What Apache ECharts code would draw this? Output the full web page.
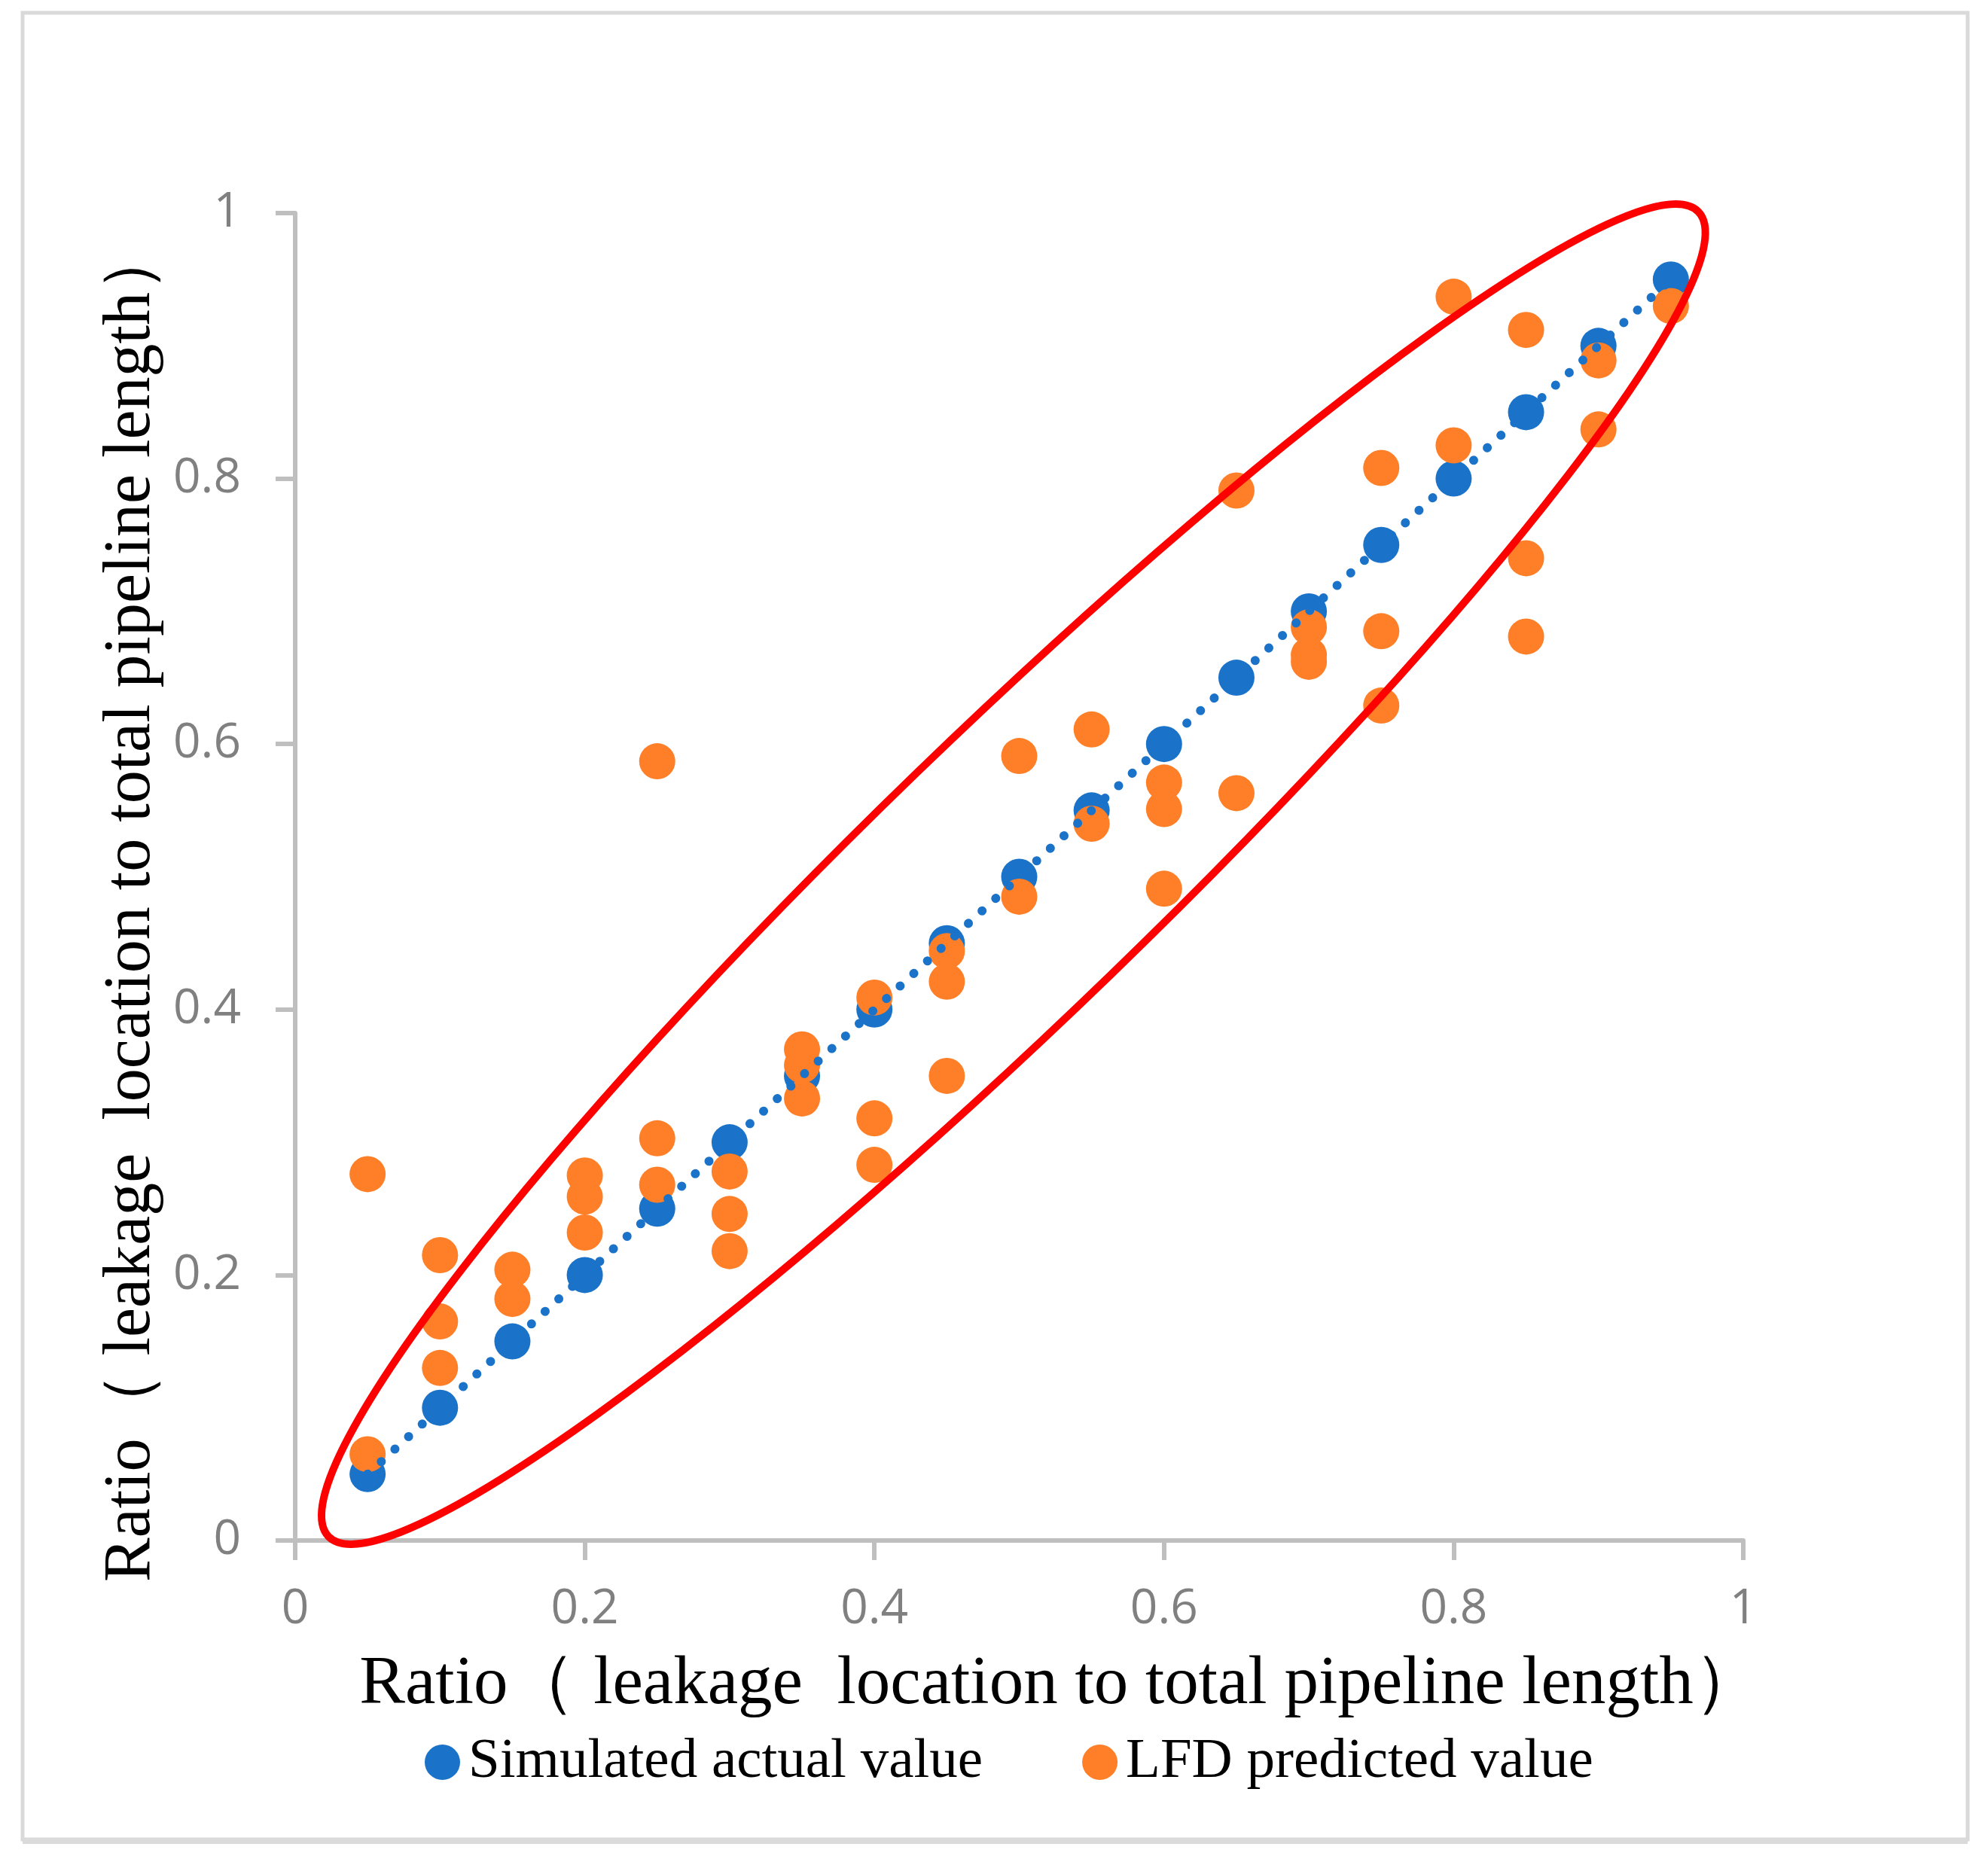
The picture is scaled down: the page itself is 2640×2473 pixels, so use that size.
<!DOCTYPE html>
<html>
<head>
<meta charset="utf-8">
<script src="https://cdn.jsdelivr.net/npm/echarts@6/dist/echarts.min.js"></script>
<style>
  html, body { margin: 0; padding: 0; background: #fff; }
  #main { width: 2640px; height: 2473px; }
</style>
</head>
<body>
<div id="main"></div>
<script>
// 模拟实际值 (x = y)
var simX = [0.05, 0.10, 0.15, 0.20, 0.25, 0.30, 0.35, 0.40, 0.45, 0.50,
            0.55, 0.60, 0.65, 0.70, 0.75, 0.80, 0.85, 0.90, 0.95];
var simY = [0.05, 0.10, 0.15, 0.20, 0.25, 0.30, 0.35, 0.40, 0.45, 0.50,
            0.55, 0.60, 0.65, 0.70, 0.75, 0.80, 0.85, 0.90, 0.95];

// LFD 预测值
var predX = [0.05, 0.05,
             0.10, 0.10, 0.10,
             0.15, 0.15,
             0.20, 0.20, 0.20,
             0.25, 0.25, 0.25,
             0.30, 0.30, 0.30,
             0.35, 0.35, 0.35,
             0.40, 0.40, 0.40,
             0.45, 0.45, 0.45,
             0.50, 0.50,
             0.55, 0.55,
             0.60, 0.60, 0.60,
             0.65, 0.65,
             0.70, 0.70, 0.70,
             0.75, 0.75, 0.75,
             0.80, 0.80,
             0.85, 0.85, 0.85,
             0.90, 0.90,
             0.95];
var predY = [0.065, 0.276,
             0.130, 0.165, 0.215,
             0.182, 0.204,
             0.232, 0.259, 0.275,
             0.268, 0.303, 0.587,
             0.218, 0.246, 0.278,
             0.333, 0.358, 0.370,
             0.283, 0.318, 0.409,
             0.350, 0.421, 0.444,
             0.485, 0.591,
             0.540, 0.611,
             0.491, 0.551, 0.571,
             0.563, 0.791,
             0.662, 0.667, 0.688,
             0.629, 0.685, 0.808,
             0.825, 0.937,
             0.681, 0.740, 0.912,
             0.837, 0.889,
             0.930];

var axisTicks = [0, 0.2, 0.4, 0.6, 0.8, 1];
var seriesNames = ['Simulated actual value', 'LFD predicted value'];
var axisTitle = 'Ratio（ leakage  location to total pipeline length）';

// 红色椭圆的两端 (数据坐标)
var ellipseTipA = [0.023, 0.003];
var ellipseTipB = [0.969, 1.001];

var BLUE = '#1a73c8';
var ORANGE = '#fe7f27';

function pairs(xs, ys) {
  return xs.map(function (x, i) { return [x, ys[i]]; });
}

// 线性趋势线 (最小二乘)
function trendLine(xs, ys) {
  var n = xs.length, sx = 0, sy = 0, sxx = 0, sxy = 0;
  for (var i = 0; i < n; i++) {
    sx += xs[i]; sy += ys[i]; sxx += xs[i] * xs[i]; sxy += xs[i] * ys[i];
  }
  var k = (n * sxy - sx * sy) / (n * sxx - sx * sx);
  var b = (sy - k * sx) / n;
  var x0 = Math.min.apply(null, xs), x1 = Math.max.apply(null, xs);
  return [[x0, k * x0 + b], [x1, k * x1 + b]];
}

var myChart = echarts.init(document.getElementById('main'));

var axisCommon = {
  type: 'value',
  min: axisTicks[0],
  max: axisTicks[axisTicks.length - 1],
  interval: axisTicks[1] - axisTicks[0],
  splitLine: { show: false },
  axisLine: { show: true, lineStyle: { color: '#bfbfbf', width: 6 } },
  axisTick: { show: true, length: 26, lineStyle: { color: '#bfbfbf', width: 6 } },
  nameLocation: 'middle',
  name: axisTitle,
  nameTextStyle: { fontFamily: 'Liberation Serif', fontSize: 91, color: '#000' }
};

var option = {
  animation: false,
  backgroundColor: '#fff',
  grid: { left: 392, right: 325, top: 283, bottom: 427, containLabel: false },
  xAxis: echarts.util.merge({
    nameGap: 147,
    nameTextStyle: { padding: [0, 0, 0, 110] },
    axisLabel: { margin: 60, fontFamily: 'Open Sans', fontSize: 64, color: '#808080' }
  }, axisCommon),
  yAxis: echarts.util.merge({
    nameGap: 157,
    nameRotate: 90,
    nameTextStyle: { fontSize: 88, padding: [0, 72, 0, 0] },
    axisLabel: { margin: 72, fontFamily: 'Open Sans', fontSize: 64, color: '#808080' }
  }, axisCommon),
  legend: {
    data: seriesNames,
    left: 559,
    top: 2298,
    icon: 'circle',
    itemWidth: 47,
    itemHeight: 47,
    itemGap: 132,
    textStyle: { fontFamily: 'Liberation Serif', fontSize: 75, color: '#000', padding: [0, 0, 0, 6] }
  },
  series: [
    {
      name: seriesNames[0],
      type: 'scatter',
      symbolSize: 48,
      itemStyle: { color: BLUE, opacity: 1 },
      data: pairs(simX, simY),
      z: 2
    },
    {
      name: seriesNames[1],
      type: 'scatter',
      symbolSize: 48,
      itemStyle: { color: ORANGE, opacity: 1 },
      data: pairs(predX, predY),
      z: 3
    },
    {
      name: 'trend',
      type: 'line',
      showSymbol: false,
      symbol: 'none',
      data: trendLine(simX, simY),
      lineStyle: { color: BLUE, width: 12, type: [0.1, 24.5], cap: 'round' },
      z: 4
    }
  ]
};

myChart.setOption(option);

// 红色椭圆 + 外框
var pa = myChart.convertToPixel({ gridIndex: 0 }, ellipseTipA);
var pb = myChart.convertToPixel({ gridIndex: 0 }, ellipseTipB);
var cx = (pa[0] + pb[0]) / 2, cy = (pa[1] + pb[1]) / 2;
var rx = Math.sqrt(Math.pow(pb[0] - pa[0], 2) + Math.pow(pb[1] - pa[1], 2)) / 2;
var ang = Math.atan2(pa[1] - pb[1], pb[0] - pa[0]);

myChart.setOption({
  graphic: [
    {
      type: 'rect',
      z: 1,
      shape: { x: 30, y: 17, width: 2583, height: 2426 },
      style: { fill: 'none', stroke: '#d9d9d9', lineWidth: 5 }
    },
    {
      type: 'rect',
      z: 1,
      shape: { x: 30, y: 2441, width: 2583, height: 8 },
      style: { fill: '#dadada' }
    },
    {
      type: 'ellipse',
      z: 100,
      x: cx,
      y: cy,
      rotation: ang,
      shape: { cx: 0, cy: 0, rx: rx, ry: 186 },
      style: { fill: 'none', stroke: '#ff0000', lineWidth: 10 }
    }
  ]
});
</script>
</body>
</html>
